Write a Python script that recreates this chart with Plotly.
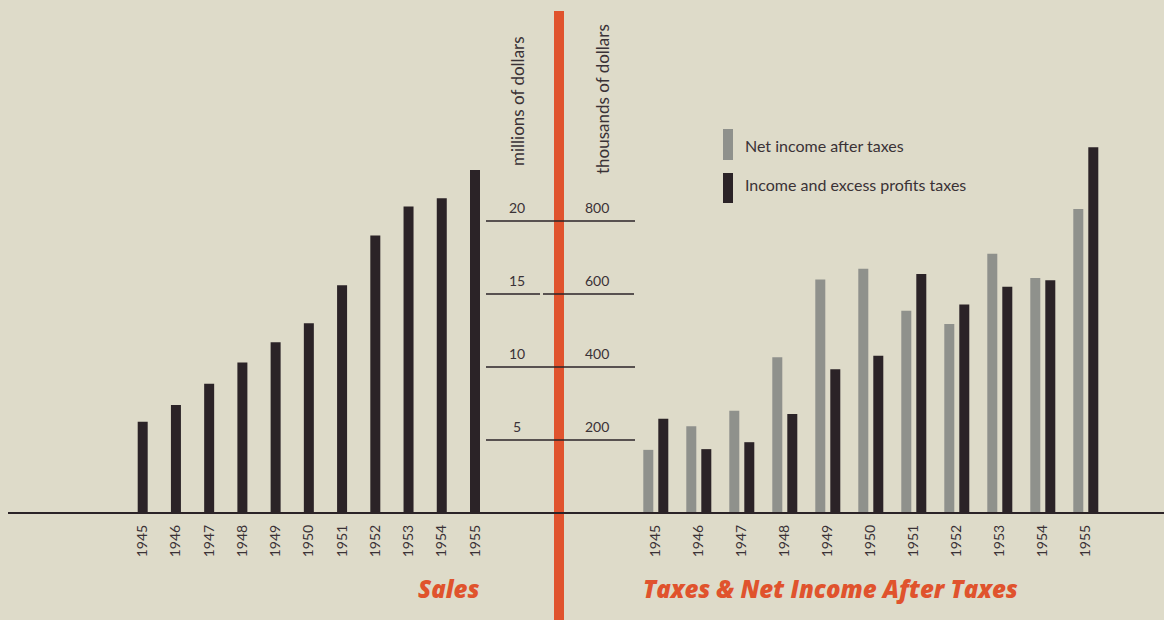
import plotly.graph_objects as go

W, H = 1164, 620
years = list(range(1945, 1956))
year_labels = [str(y) for y in years]
# Sales, millions of dollars
sales = [6.25, 7.4, 8.85, 10.3, 11.7, 13.0, 15.6, 19.0, 21.0, 21.55, 23.5]
# thousands of dollars
net_income = [173, 238, 280, 427, 640, 669, 554, 518, 710, 644, 833]
taxes = [258, 175, 194, 271, 394, 431, 655, 571, 620, 638, 1002]
left_ticks = [5, 10, 15, 20]
right_ticks = [200, 400, 600, 800]

DARK = "#2b2327"
GRAY = "#8f918c"
RED = "#e0532d"
BG = "#dedbc9"
FONT = "Lato"

def px(x):
    return x / W

def py(y):
    return 1 - y / H

# axis scale parameters (pixels)
base_px = 513
left_ppu = (513 - 221) / 20.0   # px per million
right_ppu = (513 - 221) / 800.0  # px per thousand
left_pitch = 33.23
right_pitch = 43.0
left_x0 = 142.7
right_x0 = 655.8

fig = go.Figure()
fig.add_trace(go.Bar(x=years, y=sales, xaxis="x", yaxis="y",
                     width=10 / left_pitch, marker=dict(color=DARK, line=dict(width=0)),
                     showlegend=False, name="Sales"))
fig.add_trace(go.Bar(x=years, y=net_income, xaxis="x2", yaxis="y2",
                     width=10 / right_pitch, offset=-12.5 / right_pitch,
                     marker=dict(color=GRAY, line=dict(width=0)),
                     showlegend=False, name="Net income after taxes"))
fig.add_trace(go.Bar(x=years, y=taxes, xaxis="x2", yaxis="y2",
                     width=10 / right_pitch, offset=2.5 / right_pitch,
                     marker=dict(color=DARK, line=dict(width=0)),
                     showlegend=False, name="Income and excess profits taxes"))

half = 582
xr_left = [1945 - left_x0 / left_pitch, 1945 + (half - left_x0) / left_pitch]
xr_right = [1945 + (half - right_x0) / right_pitch, 1945 + (W - right_x0) / right_pitch]
yr_left = [-(H - base_px) / left_ppu, base_px / left_ppu]
yr_right = [-(H - base_px) / right_ppu, base_px / right_ppu]

tickfont = dict(family=FONT, size=14, color="#3a3236")
common_x = dict(anchor="free", position=py(base_px), showgrid=False, zeroline=False,
                showline=False, ticks="", tickangle=-90, tickfont=tickfont,
                tickvals=years, ticktext=year_labels, ticklabelstandoff=8, fixedrange=True)
fig.update_layout(
    width=W, height=H, margin=dict(l=0, r=0, t=0, b=0),
    paper_bgcolor=BG, plot_bgcolor=BG, barmode="overlay",
    xaxis=dict(domain=[0, half / W], range=xr_left, **common_x),
    xaxis2=dict(domain=[half / W, 1], range=xr_right, **common_x),
    yaxis=dict(domain=[0, 1], range=yr_left, visible=False, fixedrange=True),
    yaxis2=dict(domain=[0, 1], range=yr_right, visible=False, anchor="x2", fixedrange=True),
)

shapes = []
# red divider
shapes.append(dict(type="line", xref="paper", yref="paper", x0=px(559), x1=px(559),
                   y0=0, y1=py(11), line=dict(color=RED, width=10)))
# baseline
shapes.append(dict(type="line", xref="paper", yref="y", x0=px(8), x1=1, y0=0, y1=0,
                   line=dict(color=DARK, width=2)))
# gridlines
for v in left_ticks:
    if v == 15:
        segs = [(486, 540), (543, 634)]
    else:
        segs = [(486, 635)]
    for a, b in segs:
        shapes.append(dict(type="line", xref="paper", yref="y", x0=px(a), x1=px(b),
                           y0=v, y1=v, line=dict(color=DARK, width=1.5)))
# legend swatches
shapes.append(dict(type="rect", xref="paper", yref="paper", x0=px(723), x1=px(733),
                   y0=py(160), y1=py(129), fillcolor=GRAY, line=dict(width=0)))
shapes.append(dict(type="rect", xref="paper", yref="paper", x0=px(723), x1=px(733),
                   y0=py(203), y1=py(173), fillcolor=DARK, line=dict(width=0)))
fig.update_layout(shapes=shapes)

ann = []
num_font = dict(family=FONT, size=14, color="#3a3236")
unit_font = dict(family=FONT, size=17, color="#3a3236")
leg_font = dict(family=FONT, size=16, color="#3a3236")
for v in left_ticks:
    ann.append(dict(xref="paper", yref="y", x=px(517), y=v, text=str(v), showarrow=False,
                    yanchor="bottom", xanchor="center", yshift=3, font=num_font))
for v in right_ticks:
    ann.append(dict(xref="paper", yref="y2", x=px(597), y=v, text=str(v), showarrow=False,
                    yanchor="bottom", xanchor="center", yshift=3, font=num_font))
ann.append(dict(xref="paper", yref="paper", x=px(518), y=py(101), text="millions of dollars",
                textangle=-90, showarrow=False, font=unit_font, xanchor="center", yanchor="middle"))
ann.append(dict(xref="paper", yref="paper", x=px(602), y=py(99), text="thousands of dollars",
                textangle=-90, showarrow=False, font=unit_font, xanchor="center", yanchor="middle"))
ann.append(dict(xref="paper", yref="paper", x=px(743), y=py(145), text="Net income after taxes",
                showarrow=False, font=leg_font, xanchor="left", yanchor="middle"))
ann.append(dict(xref="paper", yref="paper", x=px(743), y=py(184), text="Income and excess profits taxes",
                showarrow=False, font=leg_font, xanchor="left", yanchor="middle"))
title_font = dict(family="Open Sans", size=24, color=RED, weight=800, style="italic")
ann.append(dict(xref="paper", yref="paper", x=px(481), y=py(588), text="Sales",
                showarrow=False, font=title_font, xanchor="right", yanchor="middle"))
ann.append(dict(xref="paper", yref="paper", x=px(641), y=py(588), text="Taxes & Net Income After Taxes",
                showarrow=False, font=title_font, xanchor="left", yanchor="middle"))
fig.update_layout(annotations=ann)

fig.write_html("out.html", config={"displayModeBar": False},
               post_script="document.body.style.margin='0px';document.body.style.overflow='hidden';")
